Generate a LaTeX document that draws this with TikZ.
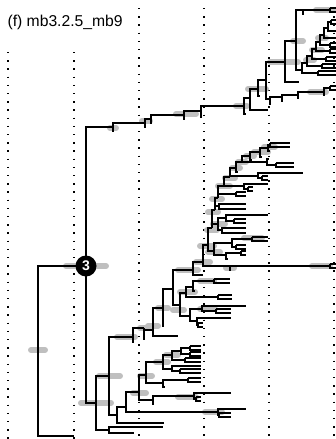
\documentclass[tikz,border=0pt]{standalone}
\usepackage{fontspec}
\setmainfont{Liberation Sans}
% tip pair drawn as a small open box
\newcommand{\cherry}[2]{\draw[br] ([yshift=2pt]#1) -- ++(#2,0) ([yshift=2pt]#1) -- ([yshift=-2pt]#1) -- ++(#2,0);}
\begin{document}
\begin{tikzpicture}[x=1pt,y=-1pt,
  br/.style={line width=1.4pt},
  guide/.style={line width=1.3pt,dash pattern=on 1.3pt off 6.9pt},
  ci/.style={line width=6pt,black!25,line cap=round},
  lab/.style={font=\fontsize{15.7}{18}\selectfont}]
\useasboundingbox (0,0) rectangle (336,439);

% time grid
\foreach \x/\y in {8/52,74/52,139/8,204/8,269/8,334/8}
  \draw[guide] (\x,\y) -- (\x,439);

% root and node 3
\coordinate (root) at (38,350);
\coordinate (out) at (74,436);
\coordinate (n3) at (86,266);

% upper clade
\coordinate (a0) at (113,127); \coordinate (a0s) at (114,131);
\coordinate (a1) at (145,123); \coordinate (a1s) at (146,127);
\coordinate (a2) at (151,119); \coordinate (a2s) at (152,123);
\coordinate (a3) at (184,115); \coordinate (a3s) at (185,119);
\coordinate (a4) at (201,111); \coordinate (a4s) at (202,117);
\coordinate (a5) at (244,106); \coordinate (a5s) at (246,114);
\coordinate (a6) at (250,98);  \coordinate (a6s) at (268,110);
\coordinate (a7) at (258,89);  \coordinate (a7s) at (260,96);
\coordinate (a8) at (266,80);
\coordinate (b0) at (270,99);  \coordinate (b0s) at (271,104);
\coordinate (b1) at (282,97);  \coordinate (b1s) at (283,101);
\coordinate (b2) at (298,95);  \coordinate (b2s) at (299,98);
\coordinate (b3) at (324,92);  \coordinate (b3s) at (325,95);
\coordinate (bt) at (330,88);
\coordinate (c0) at (285,62);
\coordinate (c1) at (296,41);
\coordinate (c2) at (299,82);
\coordinate (d0) at (303,10);  \coordinate (d0s) at (304,14);
\coordinate (dt) at (330,10);
\coordinate (e0) at (302,70);  \coordinate (e0t) at (318,73);
\coordinate (e1) at (307,63);  \coordinate (e1t) at (322,66);
\coordinate (e2) at (312,56);  \coordinate (e2t) at (326,59);
\coordinate (e3) at (316,49);  \coordinate (e3t) at (330,51);
\coordinate (e4) at (320,42);  \coordinate (e4t) at (330,45);
\coordinate (e5) at (324,35);  \coordinate (e5t) at (336,38);
\coordinate (e6) at (328,28);  \coordinate (e6t) at (336,31);
\coordinate (e7) at (331,22);

% middle clade
\coordinate (M0) at (133,337); \coordinate (M0s) at (134,342);
\coordinate (M1) at (144,328); \coordinate (M1s) at (145,339);
\coordinate (M2) at (153,330); \coordinate (M2t) at (178,336);
\coordinate (M3) at (163,308); \coordinate (M3s) at (164,326);
\coordinate (M4) at (173,289);
\coordinate (N0) at (180,305);
\coordinate (N1) at (186,293); \coordinate (N1a) at (218,297);
\coordinate (N3) at (193,287); \coordinate (N3a) at (214,281); \coordinate (N3s) at (195,291);
\coordinate (N2) at (190,316);
\coordinate (N4) at (202,309); \coordinate (N4a) at (216,311); \coordinate (N4b) at (246,306);
\coordinate (N5) at (197,321); \coordinate (N5a) at (231,318); \coordinate (N5b) at (198,325);
\coordinate (S0) at (193,270); \coordinate (S0s) at (203,275);
\coordinate (S1) at (203,262);
\coordinate (LT0) at (230,266); \coordinate (LT0s) at (231,270); \coordinate (LTt) at (330,266);
\coordinate (S2) at (208,245);
\coordinate (P0) at (214,251);
\coordinate (P1) at (232,243); \coordinate (P1a) at (252,239); \coordinate (P1b) at (236,247);
\coordinate (P2) at (226,255); \coordinate (P2a) at (241,253); \coordinate (P2s) at (228,259);
\coordinate (S3) at (212,228);
\coordinate (Q0) at (218,224);
\coordinate (Q1) at (226,218); \coordinate (Q1a) at (268,215); \coordinate (Q1b) at (234,221);
\coordinate (Q2) at (222,230); \coordinate (Q2a) at (246,228); \coordinate (Q2b) at (246,233);
\coordinate (S4) at (215,210);
\coordinate (R0) at (219,206); \coordinate (R0a) at (246,204); \coordinate (R0b) at (246,209);
\coordinate (S5) at (218,198); \coordinate (S5a) at (236,194);
\coordinate (S6) at (224,186);
\coordinate (S6n) at (244,186); \coordinate (S6a) at (268,184); \coordinate (S6b) at (248,189);
\coordinate (S7) at (230,177);
\coordinate (S7n) at (258,176); \coordinate (S7a) at (303,173); \coordinate (S7b) at (262,178);
\coordinate (S8) at (236,168); \coordinate (S8s) at (238,172);
\coordinate (S9) at (242,162);
\coordinate (S9n) at (267,162); \coordinate (S9a) at (276,165); \coordinate (S9s) at (269,159);
\coordinate (S10) at (250,156); \coordinate (S10s) at (252,160);
\coordinate (S11) at (260,152); \coordinate (S11s) at (262,157);
\coordinate (S12) at (268,148); \coordinate (S12a) at (270,145); \coordinate (S12s) at (270,151);

% lower clade
\coordinate (L0) at (96,403);
\coordinate (L1) at (109,376);
\coordinate (L2) at (109,430); \coordinate (L2a) at (163,427); \coordinate (L2b) at (134,433);
\coordinate (L3) at (117,415); \coordinate (L3a) at (164,423);
\coordinate (L4) at (126,407);
\coordinate (L4b) at (218,412); \coordinate (L4c) at (246,409); \coordinate (L4d) at (219,415);
\coordinate (L5) at (139,392);
\coordinate (L5b) at (153,400); \coordinate (L5s) at (154,404);
\coordinate (L5c) at (194,396); \coordinate (L5d) at (231,393); \coordinate (L5e) at (196,399);
\coordinate (L6) at (146,375);
\coordinate (L7) at (163,362);
\coordinate (L8) at (163,383); \coordinate (L8a) at (188,380); \coordinate (L8s) at (165,387);
\coordinate (L9) at (172,355);
\coordinate (L9a) at (181,351); \coordinate (L9b) at (190,348); \coordinate (L9c) at (190,354);
\coordinate (L9d) at (185,360);
\coordinate (L10) at (172,369); \coordinate (L10a) at (201,366); \coordinate (L10b) at (180,371);

% credibility bars
\foreach \xa/\xb/\y in {31/45/350, 66/106/266, 81/111/403, 99/120/376, 117/135/337,
  110/116/128, 142/150/121, 176/196/114, 236/247/106, 248/266/89, 270/298/62,
  293/303/41, 316/333/10, 310/326/92, 312/322/50, 318/326/38, 306/314/60,
  178/198/270, 173/184/310, 180/195/292, 200/214/281, 200/215/309, 196/210/262,
  200/214/246, 207/217/230, 208/218/212, 212/222/199, 218/230/186, 225/235/178,
  232/240/168, 238/246/162, 246/254/156, 254/268/152, 264/275/147, 208/220/252,
  213/225/224, 244/262/238, 226/234/268, 312/330/266, 178/196/397, 205/222/412,
  133/146/393, 140/152/376, 156/168/362, 166/178/355, 140/148/328, 148/158/326,
  158/168/308}
  \draw[ci] (\xa,\y) -- (\xb,\y);

% branches
\foreach \p/\c in {root/n3, root/out, n3/a0, n3/L0,
  a0/a1, a0/a0s, a1/a2, a1/a1s, a2/a3, a2/a2s, a3/a4, a3/a3s, a4/a5, a4/a4s,
  a5/a6, a5/a5s, a6/a7, a6/a6s, a7/a8, a7/a7s, a8/c0, a8/b0,
  b0/b1, b0/b0s, b1/b2, b1/b1s, b2/b3, b2/b2s, b3/bt, b3/b3s,
  c0/c1, c0/c2, c1/d0, c1/e0, d0/dt, d0/d0s,
  e0/e1, e0/e0t, e1/e2, e1/e1t, e2/e3, e2/e2t, e3/e4, e3/e3t,
  e4/e5, e4/e4t, e5/e6, e5/e5t, e6/e7, e6/e6t,
  L0/L1, L0/L2, L1/M0, L1/L3, L2/L2a, L2/L2b, L3/L4, L3/L3a,
  L4/L5, L4/L4b, L4b/L4c, L4b/L4d, L5/L6, L5/L5b, L5b/L5c, L5b/L5s,
  L5c/L5d, L5c/L5e, L6/L7, L6/L8, L8/L8a, L8/L8s, L7/L9, L7/L10,
  L9/L9a, L9/L9d, L9a/L9b, L9a/L9c, L10/L10a, L10/L10b,
  M0/M1, M0/M0s, M1/M2, M1/M1s, M2/M3, M2/M2t, M3/M4, M3/M3s,
  M4/S0, M4/N0, N0/N1, N0/N2, N1/N3, N1/N1a, N3/N3a, N3/N3s,
  N2/N4, N2/N5, N4/N4a, N4/N4b, N5/N5a, N5/N5b,
  S0/S1, S0/S0s, S1/LT0, S1/S2, LT0/LTt, LT0/LT0s,
  S2/P0, S2/S3, P0/P1, P0/P2, P1/P1a, P1/P1b, P2/P2a, P2/P2s,
  S3/Q0, S3/S4, Q0/Q1, Q0/Q2, Q1/Q1a, Q1/Q1b, Q2/Q2a, Q2/Q2b,
  S4/S5, S4/R0, R0/R0a, R0/R0b, S5/S6, S5/S5a, S6/S7, S6/S6n,
  S6n/S6a, S6n/S6b, S7/S8, S7/S7n, S7n/S7a, S7n/S7b, S8/S9, S8/S8s,
  S9/S10, S9/S9n, S9n/S9a, S9n/S9s, S10/S11, S10/S10s,
  S11/S12, S11/S11s, S12/S12a, S12/S12s}
  \draw[br] (\p) |- (\c);

% tip pairs
\foreach \c/\l in {bt/6, dt/6, e0t/18, e1t/14, e2t/10, e3t/6, e4t/6, e7/5,
  N3a/16, N1a/14, N4a/15, N5b/5, LTt/6, P1a/16, P1b/10, P2a/5, Q1b/12,
  S5a/10, S6b/5, S7b/6, S9a/18, S12a/20,
  L4d/12, L5e/5, L8a/13, L9b/11, L9c/11, L9d/16, L10b/21}
  {\cherry{\c}{\l}}

% labels
\node[circle, fill=black, minimum size=21pt, inner sep=0pt, text=white,
  font=\fontsize{14}{16}\selectfont\bfseries] (c3) at (n3) {3};
\node[lab, anchor=west] (title) at (4,22) {(f) mb3.2.5\_mb9};
\end{tikzpicture}
\end{document}
